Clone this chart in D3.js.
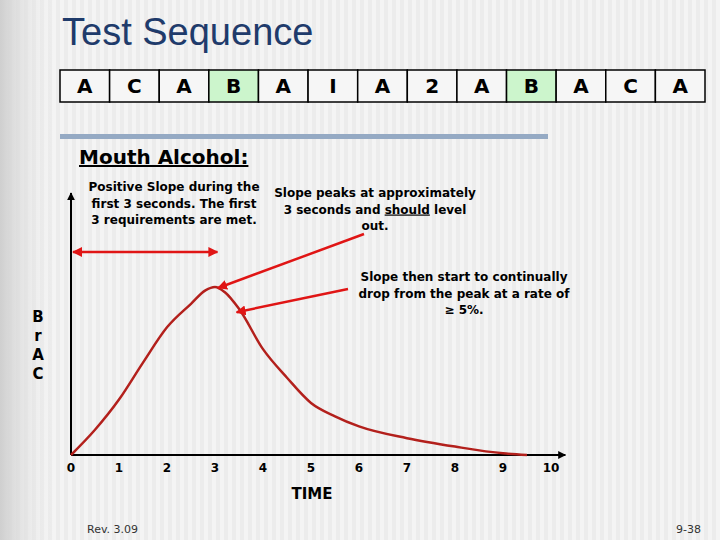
<!DOCTYPE html>
<html><head><meta charset="utf-8">
<script src="https://cdn.jsdelivr.net/npm/d3@7"></script>
<style>body{margin:0}svg{display:block}text{font-family:"DejaVu Sans",Verdana,sans-serif}</style>
</head><body><svg id="chart" width="720" height="540"></svg>
<script>
// test sequence cells, highlighted ones are the breath samples
const sequence = ["A","C","A","B","A","I","A","2","A","B","A","C","A"];
const highlighted = ["B"];
// BrAC curve (time in seconds, relative level)
const times = [0, 0.5, 1, 1.5, 2, 2.5, 2.8, 3, 3.2, 3.5, 4, 4.5, 5, 5.5, 6, 7, 8, 9, 9.5];
const levels = [0, 0.15, 0.33, 0.55, 0.76, 0.9, 0.98, 1, 0.97, 0.87, 0.63, 0.46, 0.31, 0.23, 0.17, 0.10, 0.05, 0.01, 0];
const timeTicks = [0,1,2,3,4,5,6,7,8,9,10];

let svg = d3.select("#chart");
let defs = svg.append("defs");

// striped slide background
let pat = defs.append("pattern").attr("id","stripes").attr("width",8).attr("height",8)
    .attr("patternUnits","userSpaceOnUse");
pat.append("rect").attr("width",8).attr("height",8).attr("fill","#f4f4f4");
pat.append("rect").attr("width",4).attr("height",8).attr("fill","#ececec");
svg.append("rect").attr("width",720).attr("height",540).attr("fill","url(#stripes)");
let grad = defs.append("linearGradient").attr("id","leftband");
grad.append("stop").attr("offset","0%").attr("stop-color","#cfcfcf");
grad.append("stop").attr("offset","100%").attr("stop-color","#ececec").attr("stop-opacity",0);
svg.append("rect").attr("width",55).attr("height",540).attr("fill","url(#leftband)");

function marker(id, color) {
    defs.append("marker").attr("id",id).attr("viewBox","0 0 10 10").attr("refX",9).attr("refY",5)
        .attr("markerWidth",4).attr("markerHeight",4).attr("orient","auto-start-reverse")
        .append("path").attr("d","M0,0L10,5L0,10z").attr("fill",color);
}
marker("redArrow","#e01515");
marker("blackArrow","#000");

svg.append("text").attr("x",62).attr("y",45)
    .style("font-family","'Liberation Sans',Arial,sans-serif")
    .attr("font-size",38).attr("fill","#1f3b6b").text("Test Sequence");

// sequence boxes
let cellX = d3.scaleBand().domain(d3.range(sequence.length)).range([60,705]);
let cells = svg.append("g").selectAll("g").data(sequence).enter().append("g");
cells.append("rect").attr("x",(d,i) => cellX(i)).attr("y",70).attr("width",cellX.bandwidth()).attr("height",32)
    .attr("fill",d => highlighted.includes(d) ? "#ccf5cc" : "#f6f6f6").attr("stroke","#000").attr("stroke-width",1.5);
cells.append("text").attr("x",(d,i) => cellX(i) + cellX.bandwidth()/2).attr("y",93).attr("text-anchor","middle")
    .attr("font-size",20).attr("font-weight","bold").text(d => d);

svg.append("rect").attr("x",60).attr("y",134).attr("width",488).attr("height",5).attr("fill","#95aac4");

svg.append("text").attr("x",79).attr("y",164).attr("font-size",20).attr("font-weight","bold")
    .attr("text-decoration","underline").text("Mouth Alcohol:");

// chart scales
let x = d3.scaleLinear().domain([0,10]).range([71,551]);
let y = d3.scaleLinear().domain([0,1]).range([455,287]);

svg.append("line").attr("x1",x(0)).attr("x2",x(0)).attr("y1",y(0)).attr("y2",193)
    .attr("stroke","#000").attr("stroke-width",2).attr("marker-end","url(#blackArrow)");
svg.append("line").attr("x1",x(0)).attr("x2",x(10.3)).attr("y1",y(0)).attr("y2",y(0))
    .attr("stroke","#000").attr("stroke-width",2).attr("marker-end","url(#blackArrow)");

svg.append("g").selectAll("text").data(timeTicks).enter().append("text")
    .attr("x",d => x(d)).attr("y",472).attr("text-anchor","middle").attr("font-size",12)
    .attr("font-weight","bold").text(d => d);

svg.append("text").attr("x",312).attr("y",499).attr("text-anchor","middle").attr("font-size",15)
    .attr("font-weight","bold").text("TIME");
svg.append("g").selectAll("text").data(["B","r","A","C"]).enter().append("text")
    .attr("x",38).attr("y",(d,i) => 322 + i*19).attr("text-anchor","middle").attr("font-size",15)
    .attr("font-weight","bold").text(d => d);

let line = d3.line().x((d,i) => x(times[i])).y(d => y(d)).curve(d3.curveMonotoneX);
svg.append("path").attr("d",line(levels)).attr("fill","none").attr("stroke","#b3201c").attr("stroke-width",2.5);

// annotations
function arrow(x1,y1,x2,y2,both) {
    let a = svg.append("line").attr("x1",x1).attr("y1",y1).attr("x2",x2).attr("y2",y2)
        .attr("stroke","#e01515").attr("stroke-width",2.5).attr("marker-end","url(#redArrow)");
    if (both) a.attr("marker-start","url(#redArrow)");
}
arrow(x(0)+2,252,x(3.05),252,true);
arrow(364,234,x(3)+3,y(1)+1);
arrow(348,289,x(3.45),y(0.85));

function note(lines, cx, y0) {
    let t = svg.append("g").selectAll("text").data(lines).enter().append("text")
        .attr("x",cx).attr("y",(d,i) => y0 + i*16.5).attr("text-anchor","middle")
        .attr("font-size",12).attr("font-weight","bold");
    t.each(function (d) {
        let parts = d.split(/(should)/);
        let el = d3.select(this);
        parts.forEach(p => el.append("tspan").attr("text-decoration", p === "should" ? "underline" : null).text(p));
    });
}
note(["Positive Slope during the","first 3 seconds.  The first","3 requirements are met."],174,191);
note(["Slope peaks at approximately","3 seconds and should level","out."],375,197);
note(["Slope then start to continually","drop from the peak at a rate of","≥ 5%."],464,281);

svg.append("text").attr("x",87).attr("y",533).attr("font-size",11).attr("fill","#333").text("Rev. 3.09");
svg.append("text").attr("x",701).attr("y",533).attr("text-anchor","end").attr("font-size",11).attr("fill","#333").text("9-38");
</script></body></html>
